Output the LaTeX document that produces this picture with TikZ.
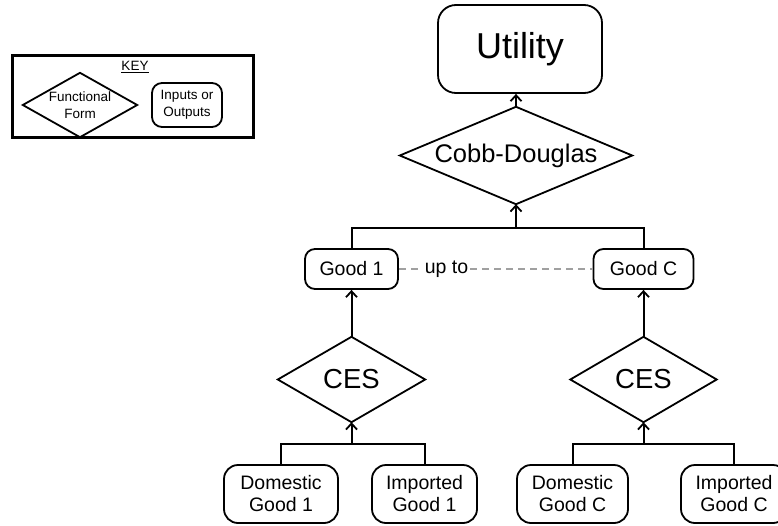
\documentclass[tikz,border=0pt]{standalone}
\usepackage{fontspec}
\setmainfont{Liberation Sans}
\usetikzlibrary{arrows.meta}
\definecolor{dashgray}{HTML}{A0A0A0}
\tikzset{
  ln/.style={line width=2pt, line join=miter},
  arr/.style={line width=2pt, -{Straight Barb[length=6pt,width=11pt,line width=1.8pt]}},
  rbox/.style={draw, line width=1.8pt, rounded corners=#1, inner sep=0pt, align=center},
  rbox/.default=10pt,
  dbox/.style={inner sep=0pt, align=center},
  diamline/.style={draw, line width=1.8pt, line join=miter},
  small/.style={font=\fontsize{19.5}{22}\selectfont},
  keyfont/.style={font=\fontsize{13.5}{17}\selectfont},
  grayline/.style={draw=dashgray, line width=1.6pt, dash pattern=on 7pt off 5pt},
}
\begin{document}
\begin{tikzpicture}[x=1pt,y=-1pt]
\useasboundingbox (0,0) rectangle (778,525);

% Key
\node[draw, line width=3pt, minimum width=241pt, minimum height=82pt, inner sep=0pt] (keybox) at (132.5,96) {};
\node[keyfont, inner sep=0pt] (keytitle) at (135,67) {\underline{KEY}};
\node[dbox, keyfont, minimum width=114pt, minimum height=64pt] (keydiam) at (80,105) {Functional\\Form};
\draw[diamline] (keydiam.north) -- (keydiam.east) -- (keydiam.south) -- (keydiam.west) -- cycle;
\node[rbox=10pt, keyfont, minimum width=70pt, minimum height=44pt] (keyrect) at (187,105) {Inputs or\\Outputs};

% Main nodes
\node[rbox=18pt, font=\fontsize{36}{40}\selectfont, minimum width=164pt, minimum height=88pt] (util) at (520,49) {Utility};
\node[dbox, font=\fontsize{25.5}{28}\selectfont, minimum width=232pt, minimum height=97pt] (cd) at (516,155.5) {Cobb-Douglas};
\draw[diamline] (cd.north) -- (cd.east) -- (cd.south) -- (cd.west) -- cycle;

\node[rbox=10pt, small, minimum width=93pt, minimum height=40pt] (g1) at (351.5,269) {Good 1};
\node[rbox=10pt, small, minimum width=100pt, minimum height=40pt] (gC) at (643.5,269) {Good C};
\node[small, fill=white, inner xsep=2pt, inner ysep=0pt] (upto) at (446.5,269) {up to};

\node[dbox, font=\fontsize{27.5}{30}\selectfont, minimum width=147pt, minimum height=85pt] (ces1) at (351.5,379.5) {CES};
\draw[diamline] (ces1.north) -- (ces1.east) -- (ces1.south) -- (ces1.west) -- cycle;
\node[dbox, font=\fontsize{27.5}{30}\selectfont, minimum width=146pt, minimum height=85pt] (ces2) at (643.5,379.5) {CES};
\draw[diamline] (ces2.north) -- (ces2.east) -- (ces2.south) -- (ces2.west) -- cycle;

\node[rbox=14pt, small, minimum width=114pt, minimum height=58pt] (dg1) at (281,494) {Domestic\\Good 1};
\node[rbox=14pt, small, minimum width=105pt, minimum height=58pt] (ig1) at (424.5,494) {Imported\\Good 1};
\node[rbox=14pt, small, minimum width=111pt, minimum height=58pt] (dgC) at (572.5,494) {Domestic\\Good C};
\node[rbox=14pt, small, minimum width=106pt, minimum height=58pt] (igC) at (734,494) {Imported\\Good C};

% Connectors
\coordinate (b0) at (516,228);
\coordinate (b1) at (351.5,444);
\coordinate (b2) at (643.5,444);

\draw[arr] (cd.north) -- (cd.north |- util.south);
\draw[ln] (g1.north) |- (b0) -| (gC.north);
\draw[arr] (b0) -- (cd.south);

\draw[grayline] (g1.east) -- (upto.west);
\draw[grayline] (upto.east) -- (gC.west);

\draw[arr] (ces1.north) -- (g1.south);
\draw[arr] (ces2.north) -- (gC.south);

\draw[ln] (dg1.north) |- (b1) -| (ig1.north);
\draw[arr] (b1) -- (ces1.south);
\draw[ln] (dgC.north) |- (b2) -| (igC.north);
\draw[arr] (b2) -- (ces2.south);
\end{tikzpicture}
\end{document}
